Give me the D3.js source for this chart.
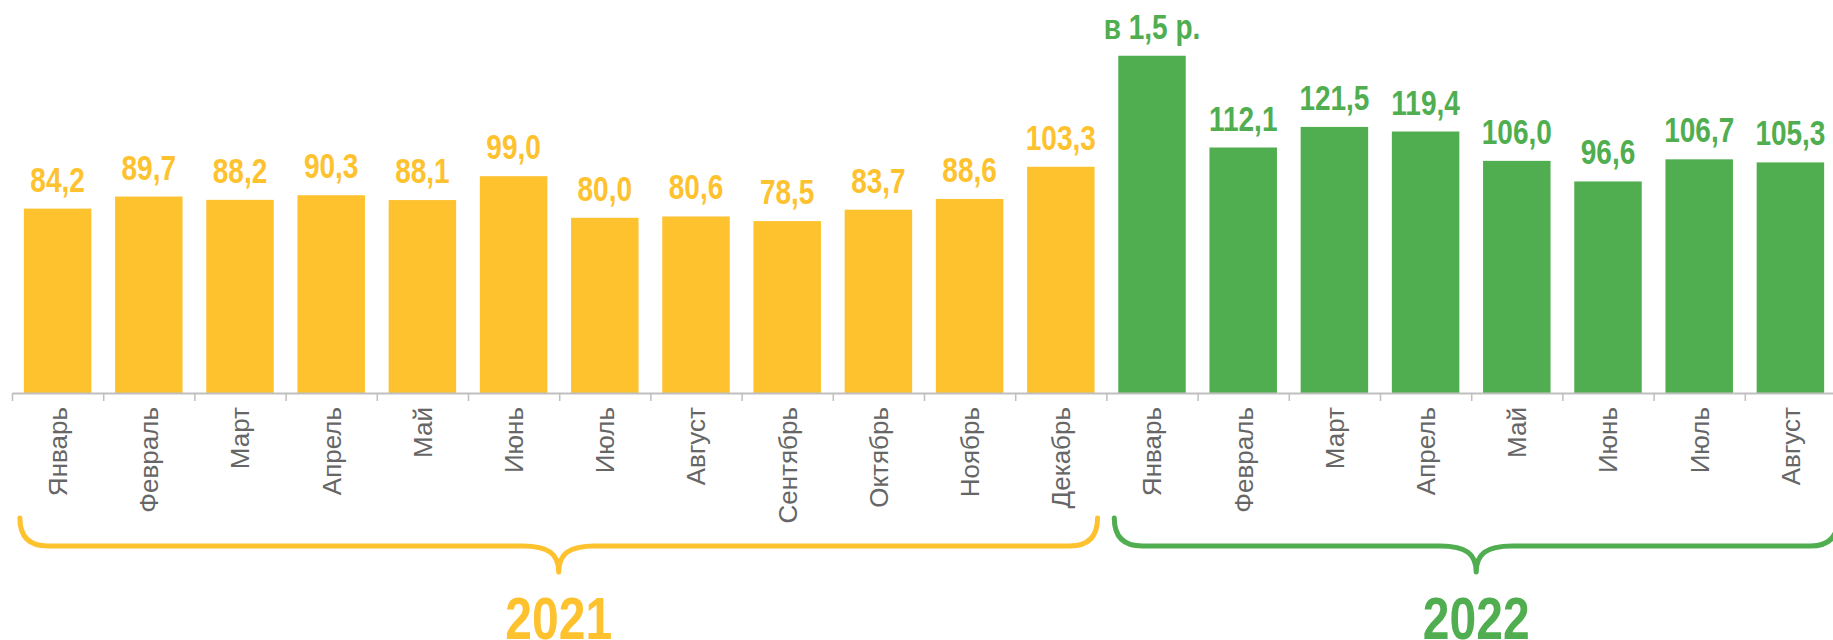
<!DOCTYPE html>
<html>
<head>
<meta charset="utf-8">
<script src="https://cdn.jsdelivr.net/npm/d3@7"></script>
<style>
    html, body { margin: 0; padding: 0; background: #ffffff; }
    svg { display: block; }
</style>
</head>
<body>
<div id="chart"></div>
<script>
var months = ["Январь", "Февраль", "Март", "Апрель", "Май", "Июнь", "Июль", "Август",
    "Сентябрь", "Октябрь", "Ноябрь", "Декабрь",
    "Январь", "Февраль", "Март", "Апрель", "Май", "Июнь", "Июль", "Август"];
var years = [2021, 2021, 2021, 2021, 2021, 2021, 2021, 2021, 2021, 2021, 2021, 2021,
    2022, 2022, 2022, 2022, 2022, 2022, 2022, 2022];
var values = [84.2, 89.7, 88.2, 90.3, 88.1, 99.0, 80.0, 80.6, 78.5, 83.7, 88.6, 103.3,
    154.0, 112.1, 121.5, 119.4, 106.0, 96.6, 106.7, 105.3];
var valueLabels = ["84,2", "89,7", "88,2", "90,3", "88,1", "99,0", "80,0", "80,6", "78,5", "83,7", "88,6", "103,3",
    "в 1,5 р.", "112,1", "121,5", "119,4", "106,0", "96,6", "106,7", "105,3"];
var yearGroups = [2021, 2022];

var ch = ch || {};

ch.colors = { 2021: "#fdc22e", 2022: "#50ae50" };
ch.bold = "'Liberation Sans', Arial, sans-serif";
// no narrow face installed, so bold labels get squeezed horizontally
ch.squeeze = 0.8;

ch.init = function () {
    const width = 1833;
    const height = 640;
    const axisY = 393;

    var svg = d3.select("#chart")
        .append("svg")
        .attr("width", width)
        .attr("height", height);

    const idx = d3.range(values.length);

    const x = d3.scaleBand()
        .domain(idx)
        .range([12, 1836])
        .paddingInner(0.26)
        .paddingOuter(0.13);

    const y = d3.scaleLinear()
        .domain([0, 150])
        .range([axisY, axisY - 328.5]);

    // bars
    svg.selectAll(".bar")
        .data(idx)
        .enter()
        .append("rect")
        .attr("class", "bar")
        .attr("x", (i) => x(i))
        .attr("y", (i) => y(values[i]))
        .attr("width", x.bandwidth())
        .attr("height", (i) => y(0) - y(values[i]))
        .style("fill", (i) => ch.colors[years[i]]);

    // value labels
    svg.selectAll(".val")
        .data(idx)
        .enter()
        .append("text")
        .attr("class", "val")
        .attr("transform", (i) => "translate(" + (x(i) + x.bandwidth() / 2) + "," + (y(values[i]) - 17) + ") scale(" + ch.squeeze + ",1)")
        .attr("text-anchor", "middle")
        .style("font-family", ch.bold)
        .style("font-weight", "bold")
        .style("font-size", "35px")
        .style("fill", (i) => ch.colors[years[i]])
        .text((i) => valueLabels[i]);

    // axis line with separator ticks between categories
    const sep = d3.scaleLinear()
        .domain([0, values.length])
        .range(x.range());

    var axis = svg.append("g")
        .attr("transform", "translate(0," + axisY + ")")
        .call(d3.axisBottom(sep)
            .tickValues(d3.range(values.length + 1))
            .tickSize(8)
            .tickSizeOuter(0)
            .tickFormat(""));
    axis.select(".domain").style("stroke", "#bfbfbf").style("stroke-width", 2);
    axis.selectAll(".tick line").style("stroke", "#bfbfbf").style("stroke-width", 1.5);

    // month names, rotated
    svg.selectAll(".month")
        .data(idx)
        .enter()
        .append("text")
        .attr("class", "month")
        .attr("transform", (i) => "translate(" + (x(i) + x.bandwidth() / 2) + "," + (axisY + 14) + ") rotate(-90)")
        .attr("dy", "0.36em")
        .attr("text-anchor", "end")
        .style("font-family", "'Liberation Sans', Arial, sans-serif")
        .style("font-size", "26px")
        .style("fill", "#666666")
        .text((i) => months[i]);

    // year braces
    yearGroups.forEach(function (yr) {
        const members = idx.filter((i) => years[i] === yr);
        const first = members[0];
        const last = members[members.length - 1];
        let x0 = x(first) - 4;
        let x1 = x(last) + x.bandwidth() + (yr === 2022 ? 14 : 3);
        const cx = (x0 + x1) / 2;
        const top = 518, mid = 546, tip = 572, r = 28;

        const d = "M" + x0 + "," + top +
            " Q" + x0 + "," + mid + " " + (x0 + r) + "," + mid +
            " L" + (cx - 36) + "," + mid +
            " C" + (cx - 10) + "," + mid + " " + cx + "," + (mid + 8) + " " + cx + "," + tip +
            " C" + cx + "," + (mid + 8) + " " + (cx + 10) + "," + mid + " " + (cx + 36) + "," + mid +
            " L" + (x1 - r) + "," + mid +
            " Q" + x1 + "," + mid + " " + x1 + "," + top;

        svg.append("path")
            .attr("d", d)
            .style("fill", "none")
            .style("stroke", ch.colors[yr])
            .style("stroke-width", 5)
            .style("stroke-linecap", "round")
            .style("stroke-linejoin", "round");

        svg.append("text")
            .attr("transform", "translate(" + cx + ",639) scale(" + ch.squeeze + ",1)")
            .attr("text-anchor", "middle")
            .style("font-family", ch.bold)
            .style("font-weight", "bold")
            .style("font-size", "60px")
            .style("fill", ch.colors[yr])
            .text(yr);
    });
};

ch.init();
</script>
</body>
</html>
